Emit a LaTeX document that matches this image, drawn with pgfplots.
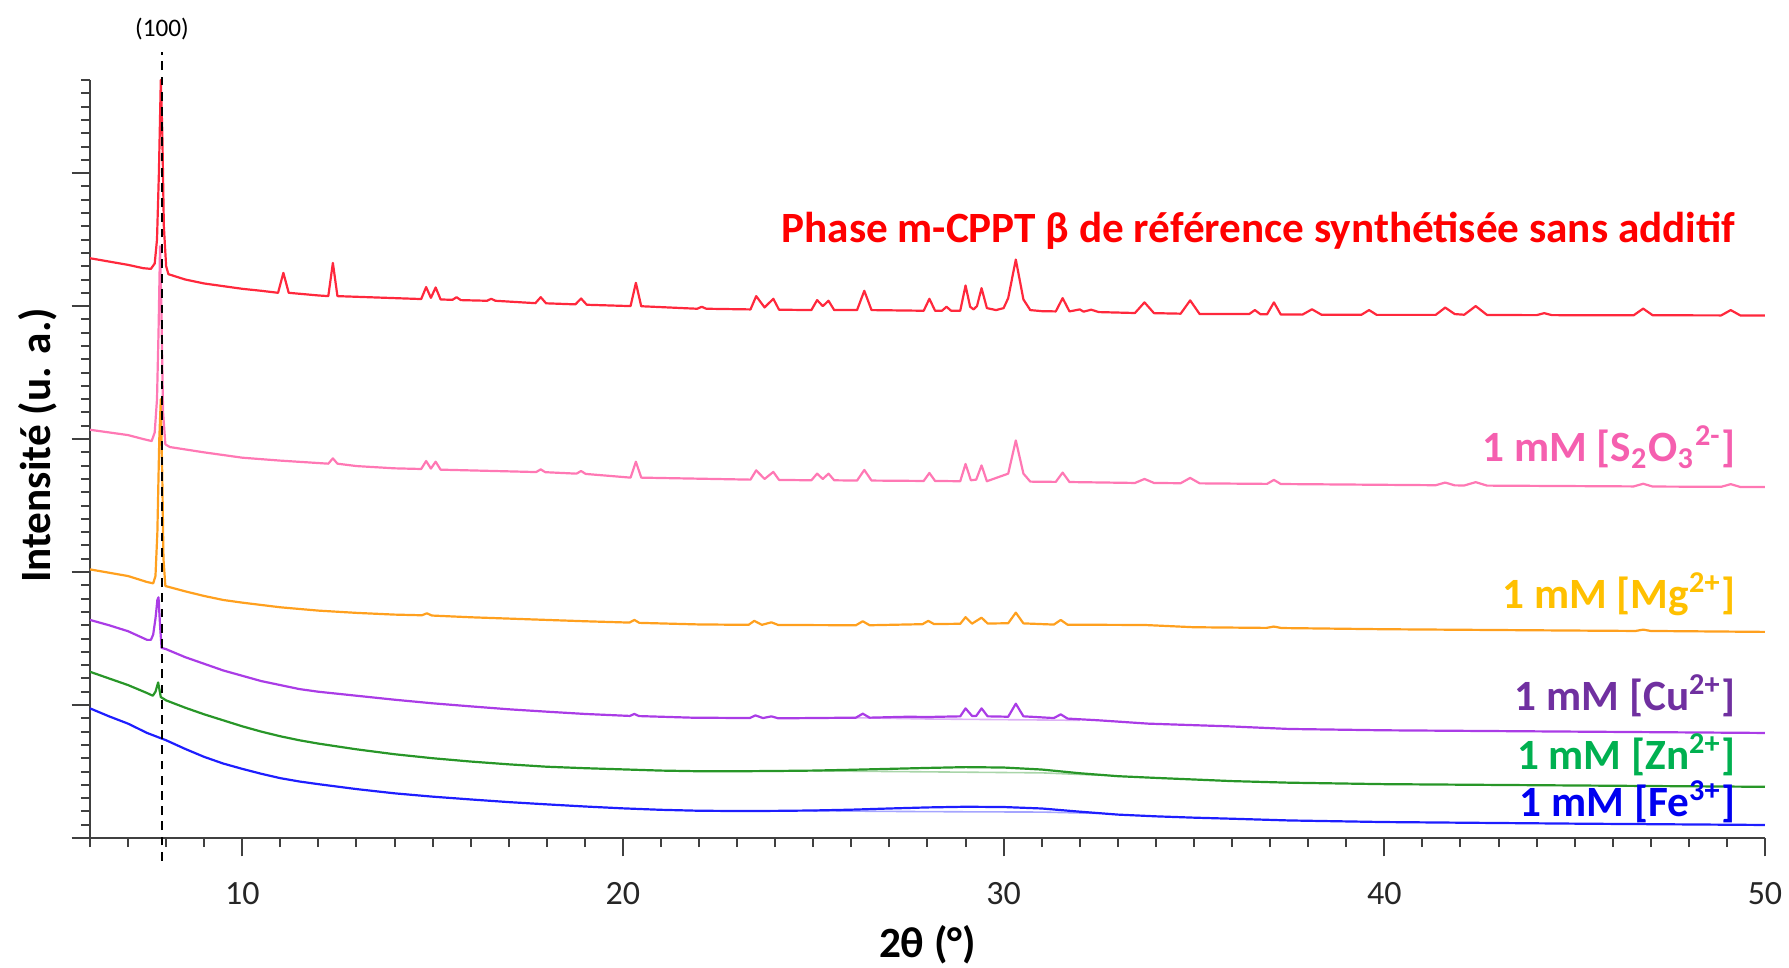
\documentclass[border=0pt]{standalone}
\usepackage{pgfplots}
\pgfplotsset{compat=1.18}
\usepackage{fontspec}
\setmainfont{Carlito}
\definecolor{cRed}{RGB}{255,40,60}
\definecolor{lRed}{RGB}{255,0,0}
\definecolor{cPink}{RGB}{255,120,180}
\definecolor{lPink}{RGB}{245,95,175}
\definecolor{cOrange}{RGB}{255,160,30}
\definecolor{lOrange}{RGB}{255,192,0}
\definecolor{cPurple}{RGB}{170,60,230}
\definecolor{lPurple}{RGB}{112,48,160}
\definecolor{cGreen}{RGB}{40,150,40}
\definecolor{lGreen}{RGB}{0,176,80}
\definecolor{cBlue}{RGB}{30,30,255}
\definecolor{lBlue}{RGB}{0,0,240}
\begin{document}
\begin{tikzpicture}
\path[use as bounding box] (-22.5pt,-32.25pt) rectangle (424.75pt,209.5pt);
\begin{axis}[
  at={(0,0)}, anchor=south west,
  scale only axis, width=418.75pt, height=189.5pt,
  xmin=6, xmax=50, ymin=0, ymax=5.7,
  clip=false,
  axis x line*=bottom, axis y line*=left,
  axis line style={black!75, line width=0.6pt},
  tick align=outside,
  major tick length=4.6pt, minor tick length=2.3pt,
  every tick/.style={black!75, line width=0.5pt},
  xtick={10,20,30,40,50},
  minor xtick={6,7,...,50},
  ytick={0,1,2,3,4,5},
  minor ytick={0.1,0.2,0.3,0.4,0.5,0.6,0.7,0.8,0.9,1.1,1.2,1.3,1.4,1.5,1.6,1.7,1.8,1.9,2.1,2.2,2.3,2.4,2.5,2.6,2.7,2.8,2.9,3.1,3.2,3.3,3.4,3.5,3.6,3.7,3.8,3.9,4.1,4.2,4.3,4.4,4.5,4.6,4.7,4.8,4.9,5.1,5.2,5.3,5.4,5.5,5.6,5.7},
  yticklabels={},
  /pgf/number format/assume math mode=true,
  xticklabel style={font=\fontsize{8.5}{10}\selectfont, text=black!85, yshift=-3pt},
  xlabel={2θ (°)},
  ylabel={Intensité (u. a.)},
  label style={font=\fontsize{10.8}{12}\selectfont\bfseries},
  xlabel style={at={(axis description cs:0.5,-0.141)}, anchor=center},
  ylabel style={at={(axis description cs:-0.031,0.518)}, anchor=center, rotate=0},
  every axis plot/.append style={line width=0.55pt, line join=round},
]
% faint background lines
\addplot[cBlue!40, line width=0.4pt] coordinates {(25,0.205) (27,0.200) (29,0.197) (31,0.195) (32.5,0.185)};
\addplot[cGreen!40, line width=0.4pt] coordinates {(25,0.505) (27,0.500) (29,0.495) (31,0.490) (32.5,0.472)};
\addplot[cPurple!40, line width=0.4pt] coordinates {(26,0.905) (28,0.895) (30,0.890) (32,0.885)};
% Fe3+
\addplot[cBlue] coordinates {
(6.0,0.975) (6.5,0.915) (7.0,0.86) (7.5,0.79) (8.0,0.735) (8.5,0.67) (9.0,0.61) (9.5,0.56) (10.0,0.52) (10.5,0.483) (11.0,0.45) (11.5,0.425) (12.0,0.405) (13.0,0.368) (14.0,0.336) (15.0,0.311) (16.0,0.29) (17.0,0.27) (18.0,0.253) (19.0,0.237) (20.0,0.223) (21.0,0.212) (22.0,0.205) (23.0,0.203) (24.0,0.204) (25.0,0.207) (26.0,0.213) (27.0,0.222) (28.0,0.23) (29.0,0.235) (30.0,0.233) (31.0,0.222) (32.0,0.198) (33.0,0.176) (34.0,0.163) (35.0,0.153) (36.0,0.145) (37.5,0.132) (40.0,0.12) (45.0,0.108) (50.0,0.098)};
% Zn2+
\addplot[cGreen] coordinates {
(6.0,1.25) (6.5,1.20) (7.0,1.15) (7.5,1.09) (7.65,1.07) (7.72,1.10) (7.79,1.17) (7.86,1.06) (8.0,1.035) (8.5,0.98) (9.0,0.93) (9.5,0.885) (10.0,0.84) (10.5,0.80) (11.0,0.765) (11.5,0.735) (12.0,0.71) (13.0,0.667) (14.0,0.63) (15.0,0.60) (16.0,0.575) (17.0,0.554) (18.0,0.536) (19.0,0.525) (20.0,0.516) (21.0,0.507) (22.0,0.502) (23.0,0.502) (24.0,0.504) (25.0,0.507) (26.0,0.513) (27.0,0.52) (28.0,0.527) (29.0,0.533) (30.0,0.53) (31.0,0.515) (32.0,0.487) (33.0,0.465) (34.0,0.452) (35.0,0.44) (36.0,0.428) (37.5,0.416) (40.0,0.405) (45.0,0.395) (50.0,0.385)};
% Cu2+
\addplot[cPurple] coordinates {
(6.0,1.64) (6.5,1.60) (7.0,1.555) (7.5,1.49) (7.6,1.49) (7.66,1.53) (7.72,1.65) (7.77,1.79) (7.8,1.81) (7.84,1.60) (7.88,1.43) (8.0,1.42) (8.5,1.36) (9.0,1.31) (9.5,1.26) (10.0,1.22) (10.5,1.18) (11.0,1.15) (11.5,1.12) (12.0,1.10) (13.0,1.07) (14.0,1.04) (15.0,1.013) (16.0,0.99) (17.0,0.968) (18.0,0.95) (19.0,0.933) (20.18,0.918) (20.3,0.933) (20.42,0.917) (21.8,0.905) (23.33,0.902) (23.48,0.922) (23.68,0.902) (23.9,0.915) (24.08,0.90) (26.12,0.905) (26.3,0.935) (26.48,0.905) (27.5,0.912) (28.0,0.91) (28.86,0.915) (29.0,0.975) (29.17,0.918) (29.28,0.918) (29.42,0.975) (29.58,0.915) (30.12,0.912) (30.32,1.01) (30.52,0.915) (31.32,0.902) (31.5,0.93) (31.68,0.898) (32.5,0.885) (33.8,0.86) (35.9,0.84) (37.5,0.82) (40.0,0.81) (45.0,0.80) (50.0,0.79)};
% Mg2+
\addplot[cOrange] coordinates {
(6.0,2.02) (6.5,1.995) (7.0,1.97) (7.5,1.925) (7.66,1.915) (7.72,1.97) (7.77,2.3) (7.82,3.0) (7.86,3.3) (7.9,2.7) (7.93,2.1) (7.98,1.895) (8.5,1.855) (9.0,1.82) (9.5,1.79) (10.0,1.77) (11.0,1.735) (12.0,1.71) (13.0,1.693) (14.0,1.68) (14.72,1.675) (14.85,1.69) (14.98,1.673) (16.0,1.66) (17.0,1.65) (18.0,1.64) (19.0,1.63) (20.17,1.62) (20.3,1.64) (20.43,1.618) (22.0,1.606) (23.3,1.603) (23.45,1.633) (23.65,1.603) (23.9,1.622) (24.08,1.602) (26.12,1.60) (26.3,1.63) (26.48,1.60) (27.87,1.608) (28.02,1.633) (28.17,1.609) (28.86,1.611) (29.0,1.661) (29.17,1.612) (29.42,1.657) (29.58,1.613) (30.12,1.615) (30.32,1.695) (30.52,1.614) (31.32,1.605) (31.5,1.64) (31.68,1.604) (33.7,1.602) (35.0,1.585) (36.9,1.58) (37.1,1.59) (37.3,1.579) (40.0,1.57) (45.0,1.56) (46.6,1.557) (46.8,1.567) (47.0,1.557) (50.0,1.55)};
% S2O3 2-
\addplot[cPink] coordinates {
(6.0,3.07) (6.5,3.05) (7.0,3.03) (7.4,3.0) (7.62,2.985) (7.7,3.05) (7.76,3.3) (7.8,3.8) (7.84,4.45) (7.88,3.9) (7.92,3.2) (7.98,2.96) (8.1,2.94) (9.0,2.90) (10.0,2.86) (11.0,2.838) (12.26,2.815) (12.38,2.855) (12.5,2.815) (13.0,2.797) (14.0,2.78) (14.7,2.775) (14.83,2.835) (14.955,2.778) (15.08,2.83) (15.21,2.77) (17.72,2.752) (17.84,2.772) (17.96,2.751) (18.78,2.74) (18.9,2.76) (19.02,2.738) (20.2,2.71) (20.34,2.83) (20.48,2.71) (23.35,2.695) (23.5,2.765) (23.72,2.70) (23.95,2.753) (24.1,2.693) (24.95,2.69) (25.1,2.74) (25.25,2.70) (25.4,2.74) (25.55,2.69) (26.15,2.688) (26.34,2.768) (26.53,2.688) (27.9,2.685) (28.05,2.745) (28.2,2.685) (28.86,2.683) (29.0,2.813) (29.14,2.69) (29.28,2.695) (29.42,2.802) (29.56,2.683) (30.12,2.74) (30.32,2.99) (30.52,2.74) (30.7,2.68) (31.37,2.678) (31.55,2.748) (31.73,2.677) (33.45,2.67) (33.7,2.70) (33.95,2.67) (34.65,2.668) (34.9,2.708) (35.15,2.667) (36.92,2.663) (37.1,2.693) (37.28,2.662) (41.35,2.653) (41.6,2.673) (41.85,2.652) (42.1,2.651) (42.4,2.676) (42.7,2.65) (46.55,2.644) (46.8,2.664) (47.05,2.643) (48.85,2.641) (49.1,2.661) (49.35,2.64) (50.0,2.64)};
% reference
\addplot[cRed] coordinates {
(6.0,4.36) (6.5,4.335) (7.0,4.31) (7.4,4.285) (7.6,4.28) (7.7,4.32) (7.76,4.5) (7.81,5.0) (7.86,5.7) (7.90,5.3) (7.94,4.6) (8.0,4.3) (8.06,4.24) (8.5,4.2) (9.0,4.17) (9.5,4.15) (10.0,4.13) (10.5,4.115) (10.94,4.10) (11.08,4.25) (11.22,4.10) (12.0,4.08) (12.26,4.075) (12.38,4.325) (12.5,4.075) (13.0,4.07) (14.0,4.06) (14.7,4.053) (14.83,4.143) (14.955,4.062) (15.08,4.14) (15.21,4.05) (15.52,4.047) (15.63,4.067) (15.74,4.045) (16.43,4.04) (16.54,4.055) (16.65,4.04) (17.7,4.022) (17.84,4.067) (17.98,4.021) (18.75,4.013) (18.9,4.057) (19.05,4.01) (20.2,4.0) (20.34,4.175) (20.48,3.999) (21.95,3.98) (22.07,3.995) (22.19,3.98) (23.35,3.975) (23.5,4.075) (23.72,3.99) (23.95,4.055) (24.1,3.973) (24.95,3.97) (25.1,4.045) (25.25,4.0) (25.4,4.04) (25.55,3.97) (26.15,3.97) (26.34,4.115) (26.53,3.97) (27.9,3.965) (28.05,4.055) (28.2,3.965) (28.38,3.965) (28.5,3.995) (28.62,3.965) (28.86,3.965) (29.0,4.155) (29.12,3.995) (29.21,3.975) (29.3,4.0) (29.42,4.135) (29.56,3.985) (29.8,3.97) (30.0,3.985) (30.12,4.06) (30.32,4.35) (30.52,4.05) (30.7,3.97) (31.0,3.962) (31.37,3.96) (31.55,4.06) (31.73,3.96) (32.0,3.975) (32.1,3.958) (32.3,3.973) (32.5,3.955) (33.45,3.948) (33.7,4.028) (33.95,3.947) (34.65,3.943) (34.9,4.043) (35.15,3.94) (36.45,3.94) (36.6,3.97) (36.75,3.938) (36.92,3.938) (37.1,4.028) (37.28,3.937) (37.85,3.936) (38.1,3.976) (38.35,3.935) (39.4,3.935) (39.6,3.97) (39.8,3.934) (41.35,3.934) (41.6,3.989) (41.85,3.94) (42.1,3.935) (42.4,4.0) (42.7,3.933) (44.0,3.932) (44.2,3.947) (44.4,3.932) (46.55,3.931) (46.8,3.981) (47.05,3.931) (48.85,3.93) (49.1,3.97) (49.35,3.93) (50.0,3.93)};
% (100) marker line
\addplot[black, line width=0.6pt, dash pattern=on 2.2pt off 1.6pt] coordinates {(7.89,-0.17) (7.89,5.91)};
\node[font=\fontsize{6.3}{7}\selectfont] at (axis cs:7.89,6.08) {(100)};
% series labels
\begin{scope}[every node/.style={anchor=east, font=\fontsize{10.8}{12}\selectfont\bfseries, inner sep=0pt}]
\node[text=lRed] at (axis cs:49.25,4.57) {Phase m-CPPT β de référence synthétisée sans additif};
\node[text=lPink] at (axis cs:49.25,2.94) {1 mM [S\textsubscript{2}O\textsubscript{3}\textsuperscript{2-}]};
\node[text=lOrange] at (axis cs:49.25,1.83) {1 mM [Mg\textsuperscript{2+}]};
\node[text=lPurple] at (axis cs:49.25,1.07) {1 mM [Cu\textsuperscript{2+}]};
\node[text=lGreen] at (axis cs:49.25,0.626) {1 mM [Zn\textsuperscript{2+}]};
\node[text=lBlue] at (axis cs:49.25,0.274) {1 mM [Fe\textsuperscript{3+}]};
\end{scope}
\end{axis}
\end{tikzpicture}
\end{document}
